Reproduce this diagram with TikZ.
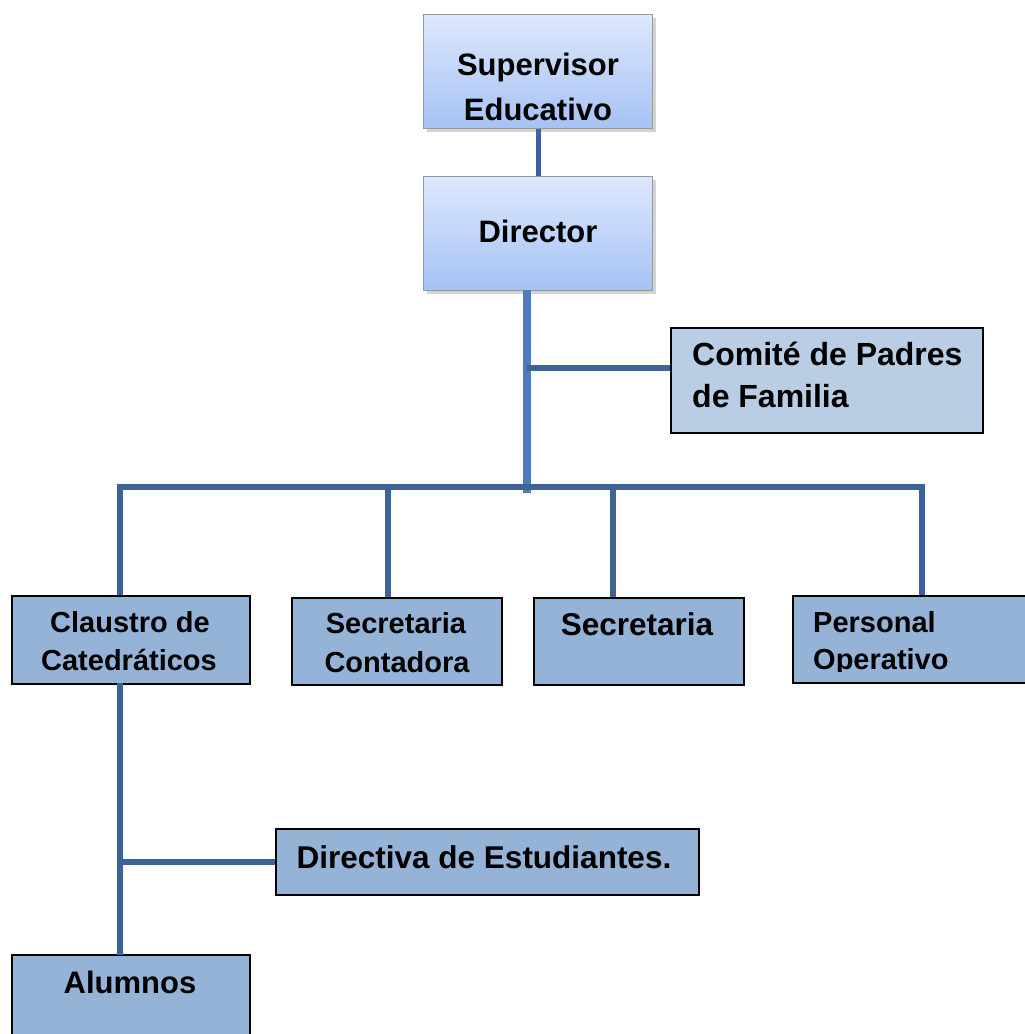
\documentclass[tikz,border=0pt]{standalone}
\usepackage{fontspec}
\setmainfont{Liberation Sans}
\usetikzlibrary{shadows}
\definecolor{gtop}{HTML}{DDE8FC}
\definecolor{gbot}{HTML}{A5C2F4}
\definecolor{comfill}{HTML}{B9CDE5}
\definecolor{boxfill}{HTML}{95B3D7}
\definecolor{trunkc}{HTML}{4A7DBA}
\definecolor{connc}{HTML}{3C6496}
\tikzset{
  gbox/.style={draw=gray!80, line width=1.2pt, top color=gtop, bottom color=gbot,
    drop shadow={shadow xshift=3pt, shadow yshift=-3pt, opacity=0.35},
    inner sep=0, anchor=north west},
  fbox/.style={draw=black, line width=1.8pt, fill=boxfill, inner sep=0, anchor=north west},
  lbl/.style={font=\bfseries\fontsize{31}{36}\selectfont, inner sep=0, anchor=base},
  conn/.style={draw=connc, line width=6pt},
  trunk/.style={draw=trunkc, line width=8pt},
}
\begin{document}
\begin{tikzpicture}[x=1pt,y=-1pt]
\useasboundingbox (0,0) rectangle (1025,1034);
% connectors first (behind boxes)
\coordinate (t0) at (527,290);
\coordinate (t1) at (527,493);
\coordinate (jc) at (527,368);
\coordinate (bl) at (120,487);
\coordinate (b2) at (388,487);
\coordinate (b3) at (613,487);
\coordinate (br) at (922,487);
\coordinate (c0) at (120,683);
\coordinate (c1) at (120,955);
\coordinate (jd) at (120,862);

% boxes
\node[gbox, minimum width=229pt, minimum height=114pt] (sup) at (423,14) {};
\node[gbox, minimum width=229pt, minimum height=114pt] (dir) at (423,176) {};
\node[fbox, fill=comfill, minimum width=312pt, minimum height=105pt] (com) at (670,327) {};
\node[fbox, minimum width=238pt, minimum height=88pt] (cla) at (11,595) {};
\node[fbox, minimum width=210pt, minimum height=87pt] (sec) at (291,597) {};
\node[fbox, minimum width=210pt, minimum height=87pt] (scr) at (533,597) {};
\node[fbox, minimum width=260pt, minimum height=87pt] (per) at (792,595) {};
\node[fbox, minimum width=423pt, minimum height=66pt] (dva) at (275,828) {};
\node[fbox, minimum width=238pt, minimum height=90pt] (alu) at (11,954) {};

% connectors
\draw[conn, line width=5pt] (sup.south -| 538,0) -- (dir.north -| 538,0);
\draw[trunk] (t0) -- (t1);
\draw[conn] (jc) -- (jc -| com.west);
\draw[conn, line join=miter] (bl |- cla.north) -- (bl) -- (br) -- (br |- per.north);
\draw[conn] (b2) -- (b2 |- sec.north);
\draw[conn] (b3) -- (b3 |- scr.north);
\draw[conn] (c0) -- (c1);
\draw[conn] (jd) -- (jd -| dva.west);

% labels
\node[lbl] (l1) at (538,75) {Supervisor};
\node[lbl] (l2) at (538,120) {Educativo};
\node[lbl] (l3) at (538,242) {Director};
\node[lbl, anchor=base west, font=\bfseries\fontsize{32}{36}\selectfont] (l4) at (692,365) {Comité de Padres};
\node[lbl, anchor=base west, font=\bfseries\fontsize{32}{36}\selectfont] (l5) at (692,407) {de Familia};
\node[lbl, font=\bfseries\fontsize{29}{34}\selectfont] (l6) at (130,632) {Claustro de};
\node[lbl, font=\bfseries\fontsize{29}{34}\selectfont] (l7) at (129,670) {Catedráticos};
\node[lbl, font=\bfseries\fontsize{29}{34}\selectfont] (l8) at (396,633) {Secretaria};
\node[lbl, font=\bfseries\fontsize{29}{34}\selectfont] (l9) at (397,672) {Contadora};
\node[lbl, font=\bfseries\fontsize{31.5}{36}\selectfont] (l10) at (637,635) {Secretaria};
\begin{scope}
\clip (792,595) rectangle (1025,671);
\node[lbl, anchor=base west, font=\bfseries\fontsize{29}{34}\selectfont] (l11) at (813,632) {Personal};
\node[lbl, anchor=base west, font=\bfseries\fontsize{29}{34}\selectfont] (l12) at (813,669) {Operativo};
\end{scope}
\node[lbl, font=\bfseries\fontsize{31.5}{36}\selectfont] (l13) at (484,868) {Directiva de Estudiantes.};
\node[lbl] (l14) at (130,993) {Alumnos};
\end{tikzpicture}
\end{document}
